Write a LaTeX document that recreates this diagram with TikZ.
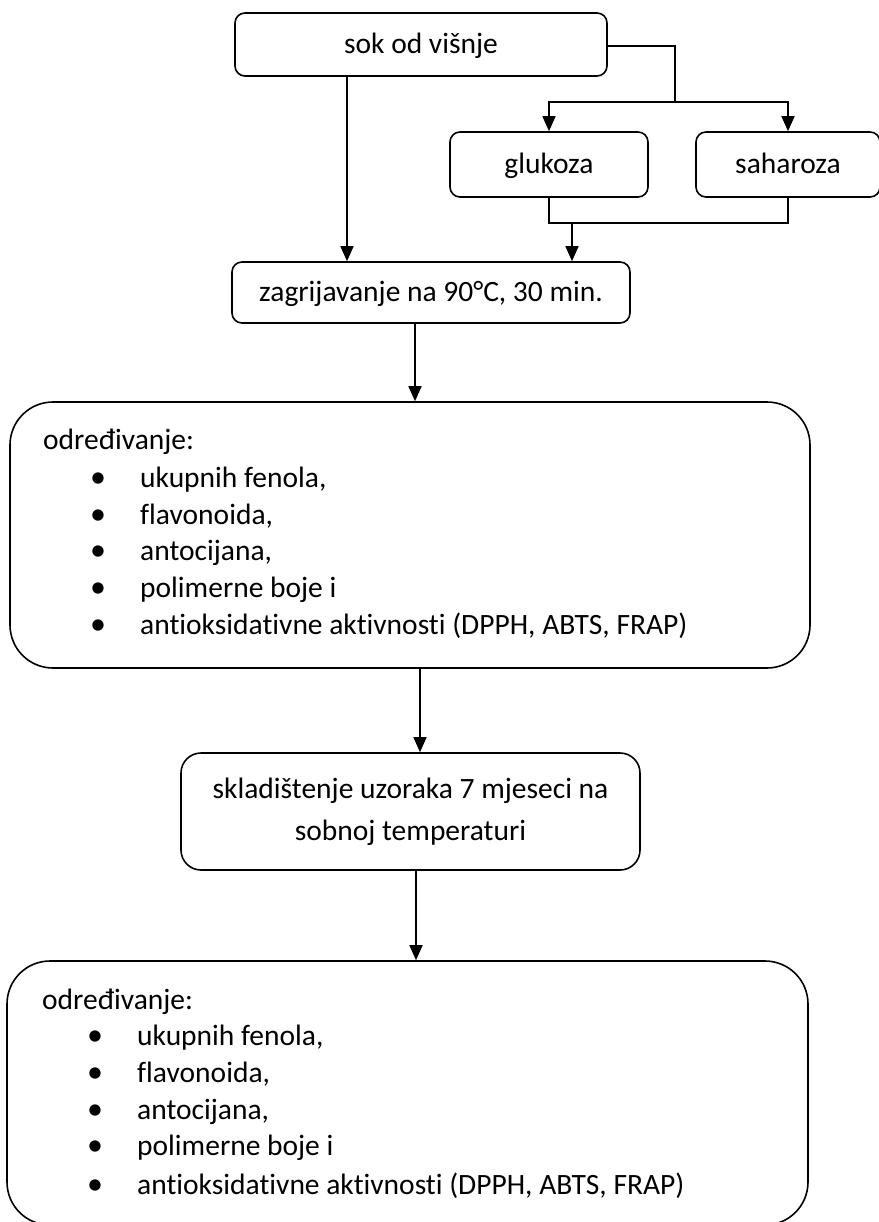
\documentclass[tikz,border=0pt]{standalone}
\usepackage{fontspec}
\setmainfont{Carlito}[Ligatures=NoCommon]
\usetikzlibrary{arrows.meta}
\begin{document}
\begin{tikzpicture}[x=1pt,y=-1pt,
  every node/.style={font=\fontsize{29.5}{37}\selectfont},
  box/.style={draw, line width=1.6pt, rounded corners=10pt, inner sep=0pt, text height=23pt, text depth=5pt},
  sklbox/.style={draw, line width=1.6pt, rounded corners=20pt, inner sep=0pt, align=center, font=\fontsize{29.5}{42}\selectfont},
  bigbox/.style={draw, line width=1.6pt, rounded corners=43pt, inner sep=0pt},
  txt/.style={anchor=mid west, inner sep=0pt},
  bul/.style={anchor=mid, inner sep=0pt, font=\fontsize{32}{37}\selectfont},
  conn/.style={line width=1.6pt},
  arr/.style={line width=1.6pt, -{Triangle[width=13pt,length=15pt]}}
]
\useasboundingbox (0,0) rectangle (878,1222);

% boxes
\node[box, minimum width=372pt, minimum height=63pt] (sok) at (421,44.5) {sok od višnje};
\node[box, minimum width=198pt, minimum height=65pt] (gluk) at (549,164.5) {glukoza};
\node[box, minimum width=184pt, minimum height=65pt] (sah) at (788,164.5) {saharoza};
\node[box, minimum width=398pt, minimum height=61pt] (zag) at (431,292.5) {zagrijavanje na 90°C, 30 min.};
\node[bigbox, minimum width=800pt, minimum height=266pt] (b1) at (410,535) {};
\node[sklbox, minimum width=459pt, minimum height=117pt] (skl) at (410.5,811.5) {skladištenje uzoraka 7 mjeseci na\\sobnoj temperaturi};
\node[bigbox, minimum width=801pt, minimum height=264pt] (b2) at (407.5,1093) {};

% texts in first big box
\node[txt] (h1) at (43,447) {određivanje:};
\node[bul] (p1a) at (98,485) {•};
\node[bul] (p1b) at (98,522) {•};
\node[bul] (p1c) at (98,558) {•};
\node[bul] (p1d) at (98,595) {•};
\node[bul] (p1e) at (98,632) {•};
\node[txt] (i1a) at (140,485) {ukupnih fenola,};
\node[txt] (i1b) at (140,522) {flavonoida,};
\node[txt] (i1c) at (140,558) {antocijana,};
\node[txt] (i1d) at (140,595) {polimerne boje i};
\node[txt] (i1e) at (140,632) {antioksidativne aktivnosti (DPPH, ABTS, FRAP)};

% texts in second big box
\node[txt] (h2) at (42,1007) {određivanje:};
\node[bul] (p2a) at (95,1043) {•};
\node[bul] (p2b) at (95,1080) {•};
\node[bul] (p2c) at (95,1117) {•};
\node[bul] (p2d) at (95,1153) {•};
\node[bul] (p2e) at (95,1192) {•};
\node[txt] (i2a) at (137,1043) {ukupnih fenola,};
\node[txt] (i2b) at (137,1080) {flavonoida,};
\node[txt] (i2c) at (137,1117) {antocijana,};
\node[txt] (i2d) at (137,1153) {polimerne boje i};
\node[txt] (i2e) at (137,1192) {antioksidativne aktivnosti (DPPH, ABTS, FRAP)};

% connectors
\coordinate (split) at (675,102);
\coordinate (merge) at (572,223);
\draw[arr] ([xshift=-74pt]sok.south) -- ([xshift=-74pt]sok.south |- zag.north);
\draw[conn] ([yshift=-1.5pt]sok.east) -| (split);
\draw[arr] (split) -| (gluk.north);
\draw[arr] (split) -| (sah.north);
\draw[conn] (gluk.south) |- (merge);
\draw[conn] (sah.south) |- (merge);
\draw[arr] (merge) -- (merge |- zag.north);
\draw[arr] ([xshift=-16pt]zag.south) -- ([xshift=-16pt]zag.south |- b1.north);
\draw[arr] ([xshift=10pt]b1.south) -- ([xshift=10pt]b1.south |- skl.north);
\draw[arr] ([xshift=5.5pt]skl.south) -- ([xshift=5.5pt]skl.south |- b2.north);
\end{tikzpicture}
\end{document}
